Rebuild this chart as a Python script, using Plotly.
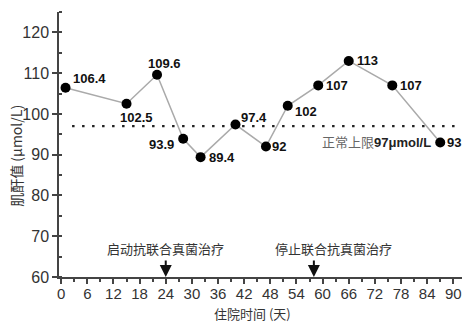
import plotly.graph_objects as go

# Creatinine measurements during hospital stay
days = [1, 15, 22, 28, 32, 40, 47, 52, 59, 66, 76, 87]
creatinine = [106.4, 102.5, 109.6, 93.9, 89.4, 97.4, 92, 102, 107, 113, 107, 93]
upper_limit = 97
x_ticks = list(range(0, 91, 6))
y_ticks = list(range(60, 121, 10))

# label offsets (px) relative to each point
label_dx = [24, 10, 7, -22, 21, 19, 13, 18, 19, 19, 19, 14]
label_dy = [9, -14, 11, -6, 0, 7, 0, -6, 0, 0, 0, 0]

events = [(24, "启动抗联合真菌治疗", 0), (58, "停止联合抗真菌治疗", 20)]

fig = go.Figure()

# normal upper limit (dotted)
fig.add_trace(go.Scatter(
    x=[2.5, 91], y=[upper_limit, upper_limit], mode="lines",
    line=dict(color="#222", width=2.2, dash="2.5px,7.5px"), hoverinfo="skip", showlegend=False))

fig.add_trace(go.Scatter(
    x=days, y=creatinine, mode="lines+markers",
    line=dict(color="#aaaaaa", width=1.5),
    marker=dict(color="black", size=10),
    showlegend=False))

annotations = []
for d, v, dx, dy in zip(days, creatinine, label_dx, label_dy):
    annotations.append(dict(
        x=d, y=v, text=f"<b>{v:g}</b>", showarrow=False, xshift=dx, yshift=dy,
        font=dict(family="Liberation Sans, Arial", size=13, color="#111"),
        xanchor="center", yanchor="middle"))

annotations.append(dict(
    x=87, y=upper_limit, xshift=-7, yshift=-16, xanchor="right", yanchor="middle",
    text="<span style='color:#666666'>正常上限</span><b>97μmol/L</b>", showarrow=False,
    font=dict(family="Liberation Sans, Noto Sans CJK SC", size=13, color="#222")))

for d, label, shift in events:
    annotations.append(dict(
        x=d, y=60, ax=0, ay=-18, showarrow=True, arrowhead=2, arrowsize=1.2,
        arrowwidth=2, arrowcolor="#111", text=""))
    annotations.append(dict(
        x=d, y=60, yshift=29, xshift=shift, text=label, showarrow=False,
        font=dict(family="Noto Sans CJK SC", size=13, color="#333"),
        xanchor="center", yanchor="middle"))

# axis titles
annotations.append(dict(
    x=0.48, y=-0.137, xref="paper", yref="paper", text="住院时间 (天)",
    showarrow=False, xanchor="center", yanchor="middle",
    font=dict(family="Noto Sans CJK SC", size=13, color="#333")))
annotations.append(dict(
    x=-0.107, y=0.457, xref="paper", yref="paper", text="肌酐值 (μmol/L)",
    showarrow=False, xanchor="center", yanchor="middle", textangle=-90,
    font=dict(family="Noto Sans CJK SC", size=14, color="#333")))

fig.update_layout(
    width=465, height=322,
    margin=dict(l=59, r=3, t=12, b=45),
    paper_bgcolor="white", plot_bgcolor="white",
    annotations=annotations,
    font=dict(family="Liberation Sans, Arial", color="#333"),
)

fig.update_xaxes(
    range=[-0.5, 92], tickvals=x_ticks, ticks="outside", ticklen=5, tickwidth=1.5,
    tickcolor="#444", showline=True, linecolor="#444", linewidth=1.5,
    showgrid=False, zeroline=False, ticklabelstandoff=-3,
    tickfont=dict(size=15, color="#333"),
    minor=dict(dtick=3, tick0=0, ticks="outside", ticklen=3, tickcolor="#444"),
)
fig.update_yaxes(
    range=[60, 125], tickvals=y_ticks, ticks="outside", ticklen=5, tickwidth=1.5,
    tickcolor="#444", showline=True, linecolor="#444", linewidth=1.5,
    showgrid=False, zeroline=False,
    tickfont=dict(size=16, color="#333"),
    minor=dict(dtick=5, tick0=60, ticks="inside", ticklen=3, tickcolor="#444"),
)

fig.write_html("out.html")
